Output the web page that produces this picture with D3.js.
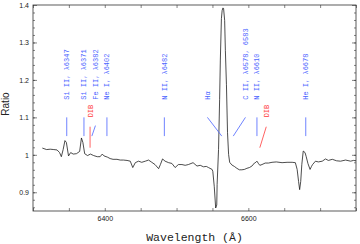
<!DOCTYPE html>
<html>
<script src="https://d3js.org/d3.v7.min.js"></script>

<head>
    <style>
        body {
            margin: 0;
            background-color: white;
        }

        svg {
            display: block;
        }
    </style>
</head>

<body>
    <svg width="360" height="244"></svg>
</body>
<script>
    const width = 360,
        height = 244;
    const margin = { top: 5, right: 4, bottom: 33, left: 33 };
    const svg = d3.select("svg");

    // spectrum (wavelength in A, ratio)
    const wavelength = [6313, 6319, 6324, 6329, 6333.5, 6337, 6339.5, 6342, 6344.5, 6346.5,
        6349.5, 6352.5, 6356, 6360.5, 6365, 6367.5, 6369.5, 6372, 6376, 6380,
        6384.5, 6389.5, 6393.5, 6396.5, 6399, 6403.5, 6407.5, 6411.5, 6417, 6421.5,
        6426, 6431, 6435.5, 6439, 6442.5, 6447, 6451.5, 6456.5, 6461, 6465.5,
        6470, 6475, 6477.5, 6480.5, 6484, 6489, 6493.5, 6498, 6502.5, 6507.5,
        6512, 6516.5, 6523, 6528.5, 6533, 6537.5, 6541.5, 6544.5, 6549.5, 6550.5,
        6552.5, 6554.5, 6556, 6556.5, 6558.5, 6560, 6561, 6562.5, 6563.5, 6564.5,
        6565.5, 6567, 6568, 6569.5, 6571, 6572.5, 6574, 6577, 6580.5, 6584,
        6587.5, 6591, 6594.5, 6598, 6601.5, 6605, 6608.5, 6610.5, 6612, 6614,
        6616, 6619, 6623.5, 6628, 6633, 6639, 6647, 6654, 6661, 6665.5,
        6668, 6670, 6671.5, 6673, 6674.5, 6676.5, 6679, 6680.5, 6683, 6686,
        6688, 6689.5, 6693.5, 6697.5, 6703, 6707.5, 6711.5, 6717, 6723, 6728.5,
        6735.5, 6742.5, 6746.5, 6750];
    const ratio = [1.018, 1.014, 1.015, 1.014, 1.013, 1.006, 0.995, 1.014, 1.038, 1.033,
        0.997, 1.006, 1.002, 1.003, 1.009, 1.045, 1.033, 1.003, 0.998, 1.002,
        0.998, 0.995, 0.995, 1.002, 0.997, 0.994, 0.990, 0.988, 0.988, 0.986,
        0.986, 0.985, 0.983, 0.966, 0.979, 0.983, 0.980, 0.983, 0.986, 0.980,
        0.974, 0.963, 0.974, 0.989, 0.983, 0.979, 0.977, 0.966, 0.974, 0.974,
        0.972, 0.974, 0.979, 0.970, 0.972, 0.968, 0.969, 0.966, 0.961, 0.956,
        0.916, 0.858, 0.866, 0.921, 1.014, 1.147, 1.253, 1.364, 1.385, 1.392,
        1.391, 1.359, 1.279, 1.187, 1.059, 1.001, 0.980, 0.973, 0.969, 0.964,
        0.960, 0.960, 0.961, 0.964, 0.966, 0.970, 0.978, 0.980, 0.983, 0.977,
        0.972, 0.974, 0.978, 0.978, 0.980, 0.981, 0.979, 0.980, 0.980, 0.979,
        0.961, 0.929, 0.907, 0.929, 0.974, 1.010, 1.006, 0.996, 0.977, 0.961,
        0.969, 0.974, 0.983, 0.981, 0.983, 0.989, 0.985, 0.988, 0.984, 0.983,
        0.986, 0.983, 0.985, 0.984];

    // line identifications
    const lineNames = ["Si II, \u03bb6347", "Si II, \u03bb6371", "Fe II, \u03bb6382", "Ne I, \u03bb6402",
        "N II, \u03bb6482", "H\u03b1", "C II, \u03bb6578, 6583", "N II, \u03bb6610", "He I, \u03bb6678"];
    const lineMarkAt = [6347, 6371, 6382, 6403, 6483, 6563, 6579, 6612, 6680];
    const lineLabelAt = [6347, 6371, 6387, 6403, 6483, 6543, 6596, 6612, 6680];
    const dibMarkAt = [6379.5, 6616];
    const dibLabelAt = [6379.5, 6625];

    const xTicks = d3.range(6300, 6751, 50);
    const xLabels = [6400, 6600];
    const yTicks = [0.9, 1, 1.1, 1.2, 1.3, 1.4];
    const yMinor = d3.range(0.86, 1.4, 0.02);

    function draw() {
        const x = d3.scaleLinear().domain([6300, 6750]).range([margin.left, width - margin.right]);
        const y = d3.scaleLinear().domain([0.85, 1.4]).range([height - margin.bottom, margin.top]);
        const x0 = x.range()[0], x1 = x.range()[1], y0 = y.range()[0], y1 = y.range()[1];

        // axes, ticks pointing inward
        svg.append("g")
            .attr("transform", `translate(0,${y0})`)
            .call(d3.axisBottom(x).tickValues(xTicks).tickSizeInner(-3).tickSizeOuter(0).tickPadding(5)
                .tickFormat(d => xLabels.includes(d) ? d : ""));
        svg.append("g")
            .attr("transform", `translate(0,${y1})`)
            .call(d3.axisTop(x).tickValues(xTicks).tickSizeInner(-3).tickSizeOuter(0).tickFormat(""));
        svg.append("g")
            .attr("transform", `translate(${x0},0)`)
            .call(d3.axisLeft(y).tickValues(yTicks).tickSizeInner(-4).tickSizeOuter(0).tickPadding(4)
                .tickFormat(d => String(+d.toFixed(1))));
        svg.append("g")
            .attr("transform", `translate(${x0},0)`)
            .call(d3.axisLeft(y).tickValues(yMinor).tickSizeInner(-2).tickSizeOuter(0).tickFormat(""));
        svg.append("g")
            .attr("transform", `translate(${x1},0)`)
            .call(d3.axisRight(y).tickValues(yTicks).tickSizeInner(-4).tickSizeOuter(0).tickFormat(""));
        svg.append("g")
            .attr("transform", `translate(${x1},0)`)
            .call(d3.axisRight(y).tickValues(yMinor).tickSizeInner(-2).tickSizeOuter(0).tickFormat(""));
        svg.selectAll(".domain").remove();
        svg.selectAll(".tick line").attr("stroke", "#333").attr("stroke-width", 0.6);
        svg.selectAll(".tick text")
            .attr("font-family", "Liberation Sans, Arial, sans-serif")
            .attr("font-size", 7)
            .attr("fill", "#222");

        svg.append("rect")
            .attr("x", x0)
            .attr("y", y1)
            .attr("width", x1 - x0)
            .attr("height", y0 - y1)
            .attr("fill", "none")
            .attr("stroke", "#333")
            .attr("stroke-width", 0.8);

        // spectrum
        const pts = wavelength.map((w, i) => [w, ratio[i]]);
        svg.append("path")
            .datum(pts)
            .attr("fill", "none")
            .attr("stroke", "#111")
            .attr("stroke-width", 0.75)
            .attr("stroke-linejoin", "round")
            .attr("d", d3.line().x(d => x(d[0])).y(d => y(d[1])));

        // line markers + labels
        const blue = "#4a63ff", red = "#ff3b3b";
        lineNames.forEach((name, i) => {
            // Fe II marker is cut short under the DIB label
            const top = i == 2 ? 1.078 : 1.10;
            svg.append("line")
                .attr("stroke", blue)
                .attr("stroke-width", 0.8)
                .attr("x1", x(lineLabelAt[i]))
                .attr("y1", y(top))
                .attr("x2", x(lineMarkAt[i]))
                .attr("y2", y(1.05));
            svg.append("text")
                .attr("transform", `translate(${x(lineLabelAt[i])},${y(1.147)}) rotate(-90)`)
                .attr("dy", "0.35em")
                .attr("font-family", "Liberation Mono, monospace")
                .attr("font-size", 7)
                .attr("fill", blue)
                .text(name);
        });
        dibMarkAt.forEach((w, i) => {
            svg.append("line")
                .attr("stroke", red)
                .attr("stroke-width", 0.8)
                .attr("x1", x(dibLabelAt[i]))
                .attr("y1", y(1.075))
                .attr("x2", x(w))
                .attr("y2", y(1.019));
            svg.append("text")
                .attr("transform", `translate(${x(dibLabelAt[i])},${y(1.10)}) rotate(-90)`)
                .attr("dy", "0.35em")
                .attr("font-family", "Liberation Mono, monospace")
                .attr("font-size", 7)
                .attr("fill", red)
                .text("DIB");
        });

        // axis titles
        svg.append("text")
            .attr("x", (x0 + x1) / 2)
            .attr("y", 241)
            .attr("text-anchor", "middle")
            .attr("font-family", "Liberation Mono, monospace")
            .attr("font-size", 11.5)
            .attr("fill", "#222")
            .text("Wavelength (\u00c5)");
        svg.append("text")
            .attr("transform", `translate(9,${(y0 + y1) / 2 - 4}) rotate(-90)`)
            .attr("text-anchor", "middle")
            .attr("font-family", "Liberation Sans, Arial, sans-serif")
            .attr("font-size", 10)
            .attr("fill", "#222")
            .text("Ratio");
    }

    draw();
</script>

</html>
